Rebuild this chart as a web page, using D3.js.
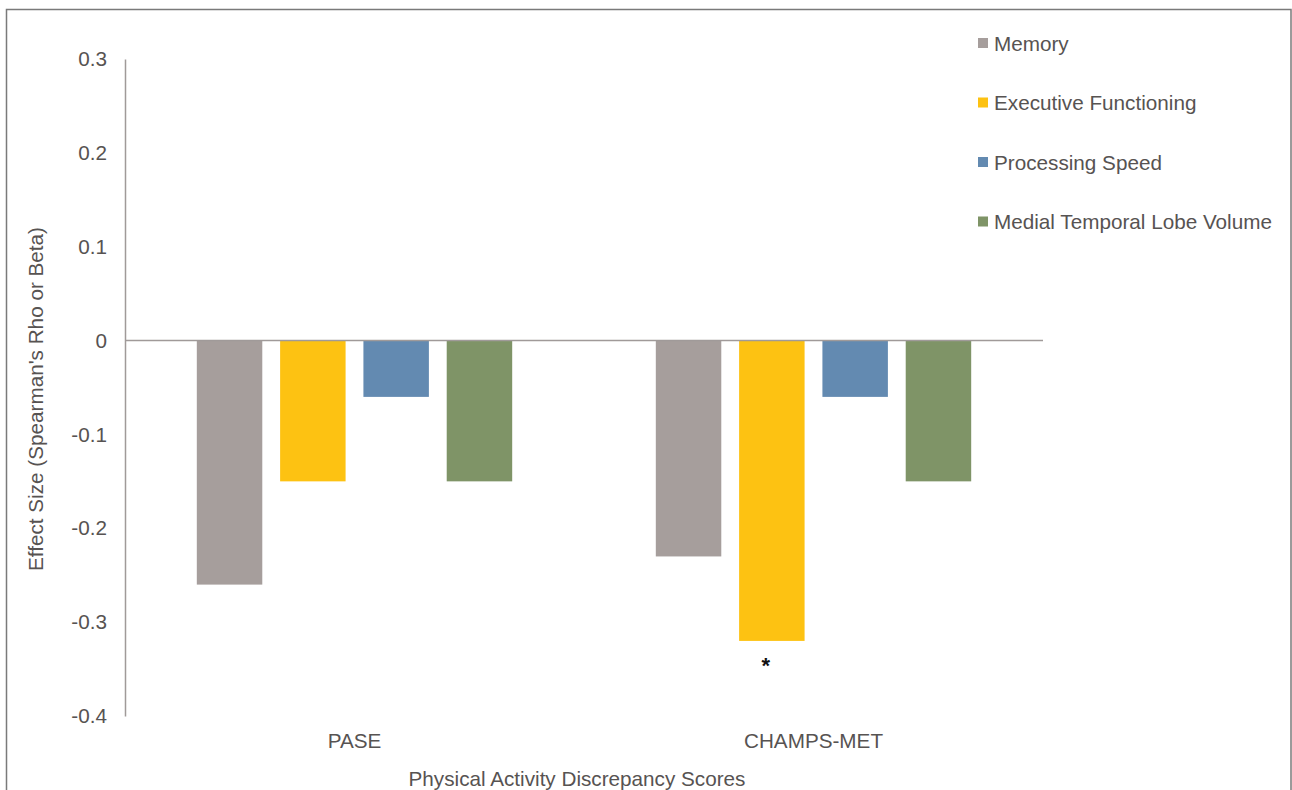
<!DOCTYPE html>
<html>
<head>
<meta charset="utf-8">
<script src="https://cdn.jsdelivr.net/npm/d3@7"></script>
<style>
  html, body { margin: 0; padding: 0; background: #fff; }
  svg { display: block; font-family: "Liberation Sans", Arial, sans-serif; }
</style>
</head>
<body>
<svg id="chart" width="1292" height="790"></svg>
<script>
const categories = ["PASE", "CHAMPS-MET"];
const seriesNames = ["Memory", "Executive Functioning", "Processing Speed", "Medial Temporal Lobe Volume"];
const memoryValues = [-0.26, -0.23];
const executiveValues = [-0.15, -0.32];
const processingValues = [-0.06, -0.06];
const mtlValues = [-0.15, -0.15];
const seriesColors = ["#a69e9c", "#fdc212", "#638ab1", "#7f9467"];
const yTickValues = [0.3, 0.2, 0.1, 0, -0.1, -0.2, -0.3, -0.4];
const yTickLabels = ["0.3", "0.2", "0.1", "0", "-0.1", "-0.2", "-0.3", "-0.4"];
const significant = [{category: "CHAMPS-MET", series: "Executive Functioning", mark: "*"}];
const xTitle = "Physical Activity Discrepancy Scores";
const yTitle = "Effect Size (Spearman's Rho or Beta)";

const seriesValues = [memoryValues, executiveValues, processingValues, mtlValues];
const data = [];
categories.forEach((c, ci) => {
  seriesNames.forEach((s, si) => {
    data.push({category: c, series: s, value: seriesValues[si][ci], color: seriesColors[si]});
  });
});

const svg = d3.select("#chart");
const textColor = "#575352";
const axisColor = "#a09a99";
const fs = 20.7;

const plotLeft = 125, plotRight = 1043, plotTop = 59, plotBottom = 716;

const x0 = d3.scaleBand().domain(categories).range([plotLeft, plotRight]).paddingInner(0).paddingOuter(0);
const x1 = d3.scaleBand().domain(seriesNames).range([0, x0.bandwidth()]).paddingInner(0.214).paddingOuter(0.862);
const y = d3.scaleLinear().domain([-0.4, 0.3]).range([plotBottom, plotTop]);

// outer border
svg.append("rect")
  .attr("x", 6.5).attr("y", 9.5).attr("width", 1284.5).attr("height", 800)
  .attr("fill", "none").attr("stroke", "#7a7a7a").attr("stroke-width", 1.5);

// bars
svg.append("g").selectAll("rect")
  .data(data)
  .join("rect")
  .attr("x", d => x0(d.category) + x1(d.series))
  .attr("width", x1.bandwidth())
  .attr("y", d => Math.min(y(d.value), y(0)))
  .attr("height", d => Math.abs(y(d.value) - y(0)))
  .attr("fill", d => d.color);

// y axis
const yAxis = d3.axisLeft(y)
  .tickValues(yTickValues)
  .tickSize(0)
  .tickPadding(18)
  .tickFormat((d, i) => yTickLabels[i]);
const yg = svg.append("g").attr("transform", `translate(${plotLeft},0)`).call(yAxis);
yg.select(".domain").attr("stroke", axisColor).attr("stroke-width", 1.5);
yg.selectAll("text").attr("fill", textColor).attr("font-size", fs)
  .attr("font-family", "Liberation Sans, Arial, sans-serif");

// zero line
svg.append("line")
  .attr("x1", plotLeft).attr("x2", plotRight)
  .attr("y1", y(0)).attr("y2", y(0))
  .attr("stroke", axisColor).attr("stroke-width", 1.5);

// category labels
const xAxis = d3.axisBottom(x0).tickSize(0).tickPadding(0);
const xg = svg.append("g").attr("transform", `translate(0,${plotBottom})`).call(xAxis);
xg.select(".domain").remove();
xg.selectAll("text")
  .attr("fill", textColor).attr("font-size", fs)
  .attr("font-family", "Liberation Sans, Arial, sans-serif")
  .attr("dy", null).attr("y", 32);

// significance marks
svg.append("g").selectAll("text")
  .data(significant)
  .join("text")
  .attr("x", d => x0(d.category) + x1(d.series) + x1.bandwidth() / 2 - 6)
  .attr("y", d => {
    const v = data.find(e => e.category === d.category && e.series === d.series).value;
    return y(v) + 32;
  })
  .attr("text-anchor", "middle")
  .attr("font-size", 22)
  .attr("font-weight", "bold")
  .attr("fill", "#111")
  .text(d => d.mark);

// axis titles
svg.append("text")
  .attr("x", 577).attr("y", 786)
  .attr("text-anchor", "middle")
  .attr("font-size", fs)
  .attr("fill", textColor)
  .text(xTitle);

svg.append("text")
  .attr("transform", "translate(43,399) rotate(-90)")
  .attr("text-anchor", "middle")
  .attr("font-size", fs)
  .attr("fill", textColor)
  .text(yTitle);

// legend
const legend = svg.append("g").attr("transform", "translate(978,43)");
const li = legend.selectAll("g")
  .data(seriesNames)
  .join("g")
  .attr("transform", (d, i) => `translate(0,${i * 59.5})`);
li.append("rect")
  .attr("x", 0).attr("y", -5).attr("width", 10).attr("height", 10)
  .attr("fill", (d, i) => seriesColors[i]);
li.append("text")
  .attr("x", 16).attr("y", 7.5)
  .attr("font-size", fs)
  .attr("fill", textColor)
  .text(d => d);
</script>
</body>
</html>
